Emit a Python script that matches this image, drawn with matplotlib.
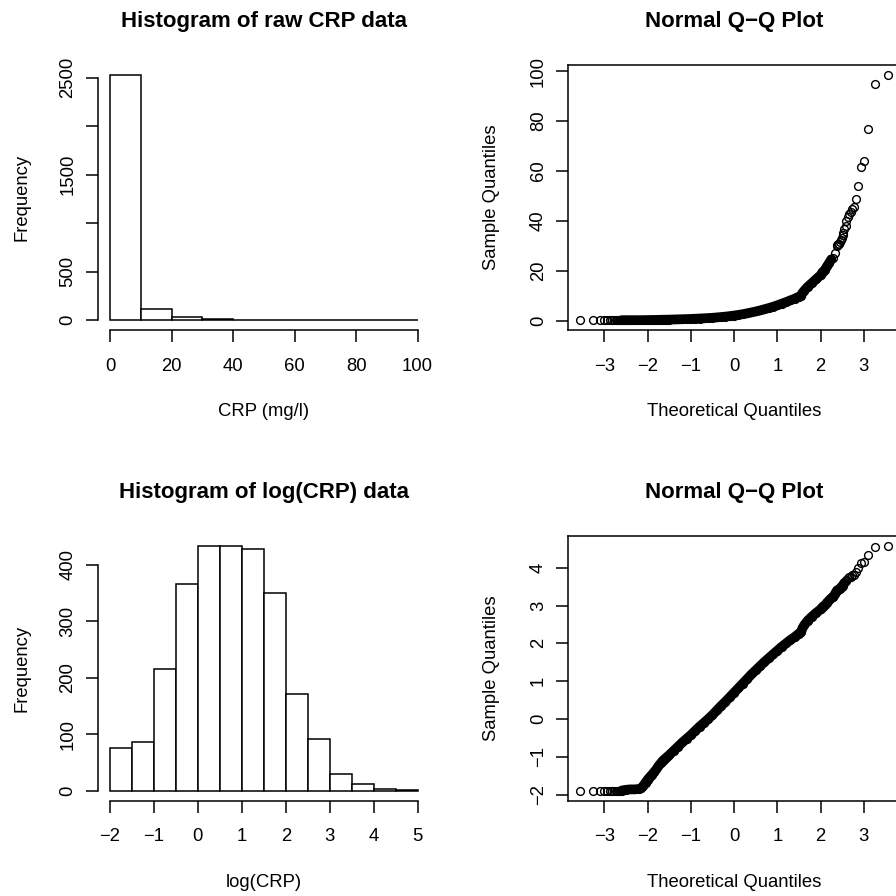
import numpy as np
import matplotlib
matplotlib.use('Agg')
import matplotlib.pyplot as plt

plt.rcParams['font.family'] = ['Liberation Sans', 'DejaVu Sans']

# ---- histogram of raw CRP (mg/l), 10 mg/l bins ----
crp_edges = [0, 10, 20, 30, 40, 50, 60, 70, 80, 90, 100]
crp_counts = [2530, 116, 31, 11, 7, 1, 2, 1, 0, 2]

# ---- histogram of log(CRP), 0.5 wide bins ----
log_edges = [-2, -1.5, -1, -0.5, 0, 0.5, 1, 1.5, 2, 2.5, 3, 3.5, 4, 4.5, 5]
log_counts = [76, 87, 215, 366, 434, 434, 428, 350, 171, 92, 30, 13, 3, 2]

# ---- normal Q-Q points: theoretical quantile vs sample log(CRP) ----
qq_theoretical = [
    -3.56, -3.26, -3.11, -3.01, -2.94, -2.87, -2.82, -2.77, -2.73, -2.70,
    -2.66, -2.63, -2.60, -2.55, -2.50, -2.40, -2.30, -2.20, -2.15, -2.10,
    -2.05, -2.00, -1.95, -1.90, -1.85, -1.80, -1.75, -1.70, -1.65, -1.60,
    -1.55, -1.50, -1.40, -1.30, -1.20, -1.10, -1.00, -0.90, -0.80, -0.70,
    -0.60, -0.50, -0.40, -0.30, -0.20, -0.10, 0.00, 0.10, 0.20, 0.30,
    0.40, 0.50, 0.60, 0.70, 0.80, 0.90, 1.00, 1.10, 1.20, 1.30,
    1.40, 1.50, 1.55, 1.58, 1.62, 1.70, 1.80, 1.90, 2.00, 2.05,
    2.10, 2.15, 2.20, 2.25, 2.29, 2.33, 2.38, 2.39, 2.41, 2.43,
    2.45, 2.47, 2.49, 2.51, 2.53, 2.55, 2.58, 2.60, 2.63, 2.66,
    2.70, 2.73, 2.77, 2.82, 2.87, 2.94, 3.01, 3.11, 3.26, 3.56,
]
qq_log_crp = [
    -1.90, -1.90, -1.90, -1.90, -1.90, -1.90, -1.90, -1.90, -1.90, -1.90,
    -1.90, -1.90, -1.89, -1.88, -1.87, -1.86, -1.86, -1.85, -1.83, -1.76,
    -1.68, -1.60, -1.53, -1.47, -1.40, -1.33, -1.24, -1.17, -1.10, -1.05,
    -1.00, -0.95, -0.84, -0.73, -0.62, -0.52, -0.42, -0.31, -0.20, -0.10,
    0.00, 0.11, 0.23, 0.35, 0.46, 0.58, 0.70, 0.82, 0.94, 1.06,
    1.18, 1.29, 1.40, 1.51, 1.61, 1.71, 1.81, 1.91, 2.00, 2.09,
    2.17, 2.26, 2.30, 2.40, 2.48, 2.60, 2.71, 2.81, 2.90, 2.97,
    3.01, 3.08, 3.14, 3.20, 3.22, 3.30, 3.40, 3.41, 3.42, 3.43,
    3.45, 3.48, 3.50, 3.53, 3.56, 3.60, 3.64, 3.69, 3.73, 3.75,
    3.77, 3.80, 3.82, 3.89, 3.99, 4.12, 4.16, 4.34, 4.55, 4.59,
]

qq_t = np.array(qq_theoretical)
qq_log = np.array(qq_log_crp)
qq_raw = np.exp(qq_log)

# style
LW = 1.1
FS_TICK = 13.3
FS_TITLE = 16
TICK_LEN = 8.4
W_PX, H_PX = 332.2, 265.0
FIG_PX = 896


def r_range(lo, hi):
    pad = 0.04 * (hi - lo)
    return lo - pad, hi + pad


def panel(fig, left_px, top_px):
    return fig.add_axes([left_px / FIG_PX, 1 - (top_px + H_PX) / FIG_PX,
                         W_PX / FIG_PX, H_PX / FIG_PX])


def dress(ax, title, xlabel, ylabel):
    ax.tick_params(axis='both', length=TICK_LEN, width=LW, labelsize=FS_TICK,
                   direction='out', color='black')
    ax.tick_params(axis='x', pad=11.5)
    ax.tick_params(axis='y', pad=6.9, labelrotation=90)
    plt.setp(ax.get_yticklabels(), va='center', ha='right')
    ax.text(0.5, 1 + 38 / H_PX, title, transform=ax.transAxes, ha='center',
            va='baseline', fontsize=FS_TITLE, fontweight='bold')
    ax.text(0.5, -86 / H_PX, xlabel, transform=ax.transAxes, ha='center',
            va='baseline', fontsize=FS_TICK)
    ax.text(-71.5 / W_PX, 0.5, ylabel, transform=ax.transAxes, ha='center',
            va='baseline', rotation=90, rotation_mode='anchor', fontsize=FS_TICK)


def histogram(ax, edges, counts, xticks, yticks, ylabels, title, xlabel):
    edges = np.array(edges, dtype=float)
    widths = np.diff(edges)
    ax.bar(edges[:-1], counts, width=widths, align='edge', color='white',
           edgecolor='black', linewidth=LW)
    ax.set_xlim(*r_range(edges[0], edges[-1]))
    ax.set_ylim(*r_range(0, max(counts)))
    ax.set_xticks(xticks)
    ax.set_yticks(yticks)
    ax.set_yticklabels(ylabels)
    for s in ('top', 'right'):
        ax.spines[s].set_visible(False)
    ax.spines['left'].set_bounds(yticks[0], yticks[-1])
    ax.spines['bottom'].set_bounds(xticks[0], xticks[-1])
    for s in ('left', 'bottom'):
        ax.spines[s].set_linewidth(LW)
    dress(ax, title, xlabel, 'Frequency')


def qqplot(ax, t, y, band_to, xticks, yticks):
    # the overplotted bulk of the sample merges into one solid stroke
    band = (t >= -2.62) & (t <= band_to)
    ax.plot(t[band], y[band], color='black', lw=7.0, solid_capstyle='round',
            solid_joinstyle='round', zorder=2)
    ax.plot(t, y, linestyle='none', marker='o', markersize=5.6,
            markerfacecolor='none', markeredgecolor='black',
            markeredgewidth=1.0, zorder=3)
    ax.set_xlim(*r_range(t.min(), t.max()))
    ax.set_ylim(*r_range(y.min(), y.max()))
    ax.set_xticks(xticks)
    ax.set_yticks(yticks)
    for s in ax.spines.values():
        s.set_linewidth(LW)
    dress(ax, 'Normal Q\u2212Q Plot', 'Theoretical Quantiles', 'Sample Quantiles')


fig = plt.figure(figsize=(8.96, 8.96), dpi=100)

ax1 = panel(fig, 97.7, 65)
histogram(ax1, crp_edges, crp_counts, [0, 20, 40, 60, 80, 100],
          [0, 500, 1000, 1500, 2000, 2500], ['0', '500', '', '1500', '', '2500'],
          'Histogram of raw CRP data', 'CRP (mg/l)')

ax2 = panel(fig, 568, 65)
qqplot(ax2, qq_t, qq_raw, 2.26, [-3, -2, -1, 0, 1, 2, 3], [0, 20, 40, 60, 80, 100])

ax3 = panel(fig, 97.7, 535.7)
histogram(ax3, log_edges, log_counts, [-2, -1, 0, 1, 2, 3, 4, 5],
          [0, 100, 200, 300, 400], ['0', '100', '200', '300', '400'],
          'Histogram of log(CRP) data', 'log(CRP)')

ax4 = panel(fig, 568, 535.7)
qqplot(ax4, qq_t, qq_log, 2.56, [-3, -2, -1, 0, 1, 2, 3], [-2, -1, 0, 1, 2, 3, 4])

fig.savefig('out.png', dpi=100)
